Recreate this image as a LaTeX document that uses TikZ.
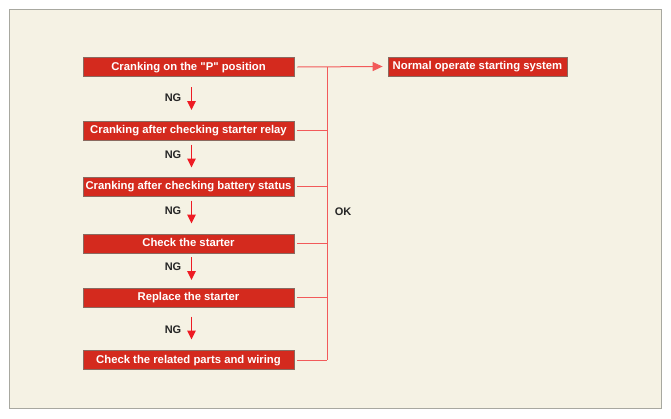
\documentclass[tikz,border=0pt]{standalone}
\usepackage{fontspec}
\setmainfont{Liberation Sans}[Ligatures=TeXOff]
\usetikzlibrary{arrows.meta}
\definecolor{panelbg}{HTML}{F5F2E4}
\definecolor{panelbd}{HTML}{A8A8A0}
\definecolor{boxred}{HTML}{D42A1E}
\definecolor{boxbd}{HTML}{8A6A60}
\definecolor{okred}{HTML}{F25A5A}
\definecolor{ngred}{HTML}{EE1C24}
\tikzset{
  stepbox/.style={draw=boxbd, line width=0.8pt, fill=boxred, text=white, inner sep=0pt,
    minimum width=211pt, minimum height=19pt, text height=8pt, text depth=2pt,
    font=\bfseries\fontsize{11.3}{12}\selectfont},
  endbox/.style={stepbox, minimum width=179pt},
  okline/.style={draw=okred, line width=1pt},
  okarrow/.style={okline, -{Triangle[length=10pt,width=9pt]}},
  ngarrow/.style={draw=ngred, line width=1.6pt, -{Triangle[length=9pt,width=8.5pt]}},
  lbl/.style={font=\bfseries\fontsize{11}{12}\selectfont, text=black!85, inner sep=0pt}
}
\begin{document}
\begin{tikzpicture}[x=1pt,y=-1pt]
\fill[white] (0,0) rectangle (671,418);
\useasboundingbox (0,0) rectangle (671,418);
\draw[panelbd, fill=panelbg, line width=1pt] (9.5,9.5) rectangle (661,408);

\node[stepbox] (b1) at (188.5,67) {Cranking on the "P" position};
\node[stepbox] (b2) at (188.5,130.5) {Cranking after checking starter relay};
\node[stepbox] (b3) at (188.5,186.5) {Cranking after checking battery status};
\node[stepbox] (b4) at (188.5,243.5) {Check the starter};
\node[stepbox] (b5) at (188.5,297.5) {Replace the starter};
\node[stepbox] (b6) at (188.5,360) {Check the related parts and wiring};
\node[endbox] (n) at (477.5,66.5) {Normal operate starting system};

\coordinate (bus) at (327,67);
\coordinate (busend) at (327,360);

% OK bus
\draw[okline] (bus) -- (busend);
\draw[okarrow] ([xshift=3pt]b1.east) -- ([xshift=-5pt]n.west);
\foreach \b in {b2,b3,b4,b5,b6}{
  \draw[okline] ([xshift=3pt]\b.east) -- (\b.east -| bus);
}
\node[lbl] (ok) at (343,212) {OK};

% NG arrows
\coordinate (m1) at (191.5,98.5);
\coordinate (m2) at (191.5,156);
\coordinate (m3) at (191.5,212);
\coordinate (m4) at (191.5,268.5);
\coordinate (m5) at (191.5,328);
\foreach \m/\ly in {m1/98,m2/155,m3/211,m4/267,m5/330}{
  \draw[ngarrow] ([yshift=11.5pt]\m) -- ([yshift=-11.5pt]\m);
  \node[lbl] (ng\m) at (173,\ly) {NG};
}
\end{tikzpicture}
\end{document}
